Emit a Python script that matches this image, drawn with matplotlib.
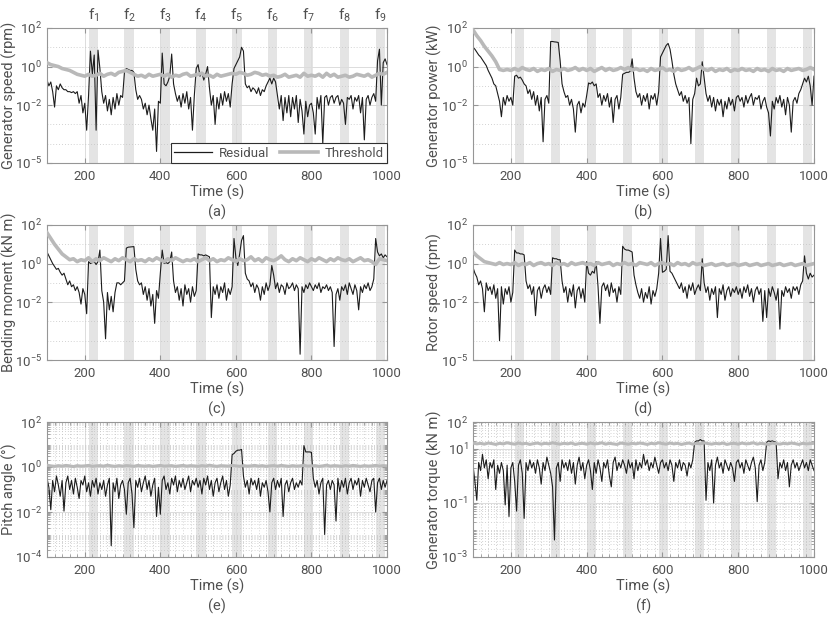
"""Residual vs threshold for six wind-turbine signals, fault windows f1..f9 shaded."""

import matplotlib

matplotlib.use("Agg")
import matplotlib.pyplot as plt
import numpy as np
from matplotlib.lines import Line2D
from matplotlib.ticker import FixedLocator, LogFormatterSciNotation, NullFormatter
import matplotlib.transforms as mtransforms

FONT = "Roboto"
plt.rcParams["font.family"] = [FONT, "DejaVu Sans"]
plt.rcParams["font.weight"] = "normal"
plt.rcParams["mathtext.fontset"] = "custom"
plt.rcParams["mathtext.rm"] = FONT
plt.rcParams["mathtext.it"] = FONT + ":italic"
plt.rcParams["mathtext.bf"] = FONT + ":bold"

TEXT = "#505050"
EDGE = "#969696"

# fault windows (s) and their labels
FAULTS = [(210, 235), (305, 330), (400, 425), (495, 520), (590, 615),
          (685, 710), (780, 805), (875, 900), (970, 995)]
FAULT_LABELS = [f"f$_{{{i}}}$" for i in range(1, 10)]

# residual samples every 5 s from 100 s to 1000 s, stored as log10 values
T_RES = np.arange(100, 1001, 5)
# threshold samples every 10 s
T_THR = np.arange(100, 1001, 10)

gen_speed_res = [
    -0.7, -1.0, -0.8, -1.3, -2.1, -1.0, -1.2, -0.9, -1.1, -1.2,
    -1.2, -1.3, -1.3, -1.35, -1.3, -1.4, -1.3, -1.9, -1.5, -2.4,
    -1.9, -3.3, -1.5, 0.8, -0.4, 0.6, -3.3, 0.85, -0.1, -1.3,
    -1.9, -1.5, -2.3, -1.7, -2.5, -1.6, -2.2, -1.4, -2.0, -1.5,
    -1.6, -0.3, -0.1, -0.15, -0.2, -0.2, -0.3, -1.2, -1.7, -1.5,
    -1.7, -2.2, -1.9, -2.5, -2.0, -2.7, -3.3, -2.2, -4.4, -1.8,
    -1.9, 0.7, -0.9, -1.0, -0.8, -0.5, 0.65, -0.9, -1.4, -1.8,
    -1.5, -2.1, -1.4, -1.9, -1.3, -2.2, -1.6, -3.3, -1.5, -0.1,
    0.1, -0.5, -0.3, -0.7, -0.4, 0.0, -1.1, -2.0, -1.5, -3.0,
    -1.6, -2.2, -1.4, -2.0, -1.3, -1.8, -1.4, -2.1, -0.9, -0.1,
    0.1, 0.3, 0.5, 1.0, 0.8, -0.9, -1.1, -1.0, -1.3, -1.1,
    -1.2, -1.4, -1.1, -1.5, -1.2, -1.3, -1.0, -0.8, -0.6, -0.9,
    -0.6, -0.8, -1.5, -2.2, -1.5, -2.8, -1.6, -2.4, -1.5, -2.6,
    -1.6, -2.2, -1.5, -2.9, -1.7, -2.3, -3.5, -1.8, -2.6, -2.0,
    -1.9, -2.4, -3.5, -1.6, -2.2, -1.5, -4.0, -1.6, -1.5, -2.0,
    -1.6, -1.5, -1.9, -1.6, -1.5, -2.0, -1.7, -1.9, -3.0, -1.6,
    -1.7, -1.5, -2.2, -1.6, -1.8, -1.5, -2.4, -1.6, -3.8, -1.7,
    -1.5, -2.0, -1.6, -1.4, -1.8, 0.3, 0.9, -2.0, 0.2, 0.4,
    0.1,
]
gen_speed_thr = [
    0.2, 0.1, 0.05, 0.0, -0.1, -0.15, -0.2, -0.3, -0.4, -0.45,
    -0.5, -0.4, -0.5, -0.45, -0.35, -0.5, -0.4, -0.35, -0.45, -0.3,
    -0.25, -0.2, -0.3, -0.4, -0.5, -0.45, -0.55, -0.4, -0.5, -0.45,
    -0.4, -0.5, -0.4, -0.55, -0.45, -0.5, -0.4, -0.35, -0.5, -0.45,
    -0.4, -0.35, -0.5, -0.45, -0.55, -0.4, -0.5, -0.45, -0.4, -0.35,
    -0.4, -0.3, -0.35, -0.45, -0.4, -0.3, -0.35, -0.45, -0.4, -0.5,
    -0.45, -0.55, -0.5, -0.4, -0.55, -0.5, -0.45, -0.55, -0.35, -0.5,
    -0.45, -0.5, -0.4, -0.55, -0.35, -0.5, -0.4, -0.55, -0.5, -0.45,
    -0.55, -0.5, -0.4, -0.45, -0.5, -0.4, -0.55, -0.45, -0.35, -0.4,
    -0.3,
]

gen_power_res = [
    1.0, 0.9, 0.75, 0.6, 0.5, 0.35, 0.2, 0.05, -0.2, -0.4,
    -0.6, -0.9, -1.0, -1.4, -1.8, -2.6, -1.6, -2.0, -1.5, -1.8,
    -1.6, -2.0, -0.5, -0.45, -0.6, -0.55, -0.7, -0.9, -1.0, -1.4,
    -1.2, -1.7, -1.3, -2.0, -1.5, -2.3, -1.6, -3.9, -1.7, -1.5,
    -1.9, 1.3, 1.3, 1.28, 1.27, 1.25, 0.3, -0.9, -1.3, -1.6,
    -1.5, -2.0, -1.7, -2.2, -3.4, -2.0, -1.8, -2.4, -1.9, -2.1,
    -1.5, -0.85, -0.9, -0.8, -1.0, -0.9, -1.6, -1.4, -2.0, -1.5,
    -1.8, -1.4, -2.1, -1.6, -2.9, -1.7, -1.5, -2.2, -1.6, -0.4,
    -0.35, -0.3, -0.3, -0.25, 0.4, -0.6, -1.3, -1.6, -1.4, -2.0,
    -1.5, -1.8, -1.4, -2.2, -1.5, -1.7, -1.4, -2.0, -1.3, 0.5,
    0.7, 0.9, 1.1, 1.2, 0.9, 0.3, -0.4, -0.9, -1.2, -1.5,
    -1.3, -1.8, -1.5, -1.9, -1.6, -4.0, -1.7, -1.4, -0.6, -1.0,
    -0.9, 0.25, -0.6, -1.4, -1.8, -1.5, -2.1, -1.6, -2.3, -1.7,
    -2.0, -1.7, -2.6, -1.8, -2.2, -1.6, -2.0, -1.7, -2.3, -1.6,
    -1.5, -1.8, -1.6, -2.1, -1.5, -1.9, -1.6, -1.4, -2.0, -1.6,
    -1.7, -1.5, -2.2, -1.8, -1.6, -2.1, -2.4, -3.6, -1.8, -2.2,
    -1.6, -1.9, -1.5, -2.1, -1.7, -2.5, -1.6, -2.0, -3.4, -1.8,
    -1.6, -1.9, -1.4, -1.2, -0.9, -0.6, -0.8, -0.5, -1.0, -2.0,
    -0.5,
]
gen_power_thr = [
    1.9, 1.6, 1.35, 1.05, 0.8, 0.55, 0.25, -0.15, -0.2, -0.15,
    -0.2, -0.1, -0.2, -0.05, -0.15, -0.2, -0.1, -0.25, -0.15, -0.2,
    -0.1, -0.25, -0.15, -0.2, -0.1, -0.2, -0.15, -0.05, -0.2, -0.1,
    -0.2, -0.1, -0.25, -0.15, -0.05, -0.2, -0.1, -0.2, -0.15, -0.05,
    -0.15, -0.05, -0.2, -0.1, -0.2, -0.15, -0.25, -0.1, -0.2, -0.15,
    -0.05, -0.2, -0.15, -0.25, -0.1, -0.2, -0.15, -0.05, -0.2, -0.1,
    0.0, -0.15, -0.2, -0.1, -0.25, -0.15, -0.2, -0.1, -0.25, -0.15,
    -0.2, -0.1, -0.2, -0.15, -0.25, -0.1, -0.2, -0.15, -0.25, -0.1,
    -0.2, -0.15, -0.25, -0.1, -0.2, -0.15, -0.1, -0.2, -0.15, -0.05,
    -0.15,
]

bend_res = [
    0.6, 0.4, 0.2, 0.0, -0.15, -0.3, -0.25, -0.45, -0.6, -0.5,
    -0.8, -1.1, -0.9, -1.2, -1.1, -1.4, -1.2, -1.5, -2.1, -1.3,
    -1.6, -2.6, 0.1, 0.0, 0.05, 0.1, -0.05, 0.1, 0.7, -1.4,
    -2.0, -3.9, -1.5, -2.4, -1.7, -2.5, -1.5, -1.0, -1.0, -1.1,
    -1.0, -0.9, 0.8, 0.85, 0.86, 0.87, 0.88, -0.3, -0.9, -1.1,
    -1.0, -1.6, -1.2, -1.9, -1.3, -2.2, -1.6, -3.1, -1.4, -1.8,
    -0.5, 0.7, 0.0, 0.05, 0.0, 0.1, 0.6, -0.9, -1.5, -1.2,
    -1.9, -1.3, -2.2, -1.1, -1.6, -1.3, -2.0, -1.2, -1.7, -1.4,
    0.5, 0.45, 0.45, 0.4, 0.45, 0.4, 0.35, -2.8, -1.2, -1.6,
    -1.1, -1.8, -1.2, -1.5, -1.0, -1.9, -1.3, -1.6, -1.2, 1.3,
    0.3, -0.1, 0.5, 1.2, 1.45, -0.5, -0.8, -0.9, -1.2, -1.0,
    -1.5, -1.1, -1.3, -1.9, -1.2, -1.6, -1.0, -1.4, -1.1, -0.1,
    -0.6, -1.3, -1.0, -1.5, -1.1, -1.2, -1.6, -1.0, -1.3, -1.2,
    -1.0, -1.4, -1.1, -1.3, -4.7, -1.2, -1.5, -1.1, -1.3, -1.0,
    -1.2, -1.4, -1.1, -1.3, -1.0, -1.5, -1.2, -1.3, -1.1, -1.4,
    -1.2, -1.5, -4.3, -1.6, -1.3, -1.9, -1.2, -1.4, -1.1, -1.6,
    -1.0, -1.3, -1.6, -1.1, -1.4, -2.4, -1.2, -1.5, -1.1, -1.3,
    -1.0, -1.4, -1.2, -0.8, 1.3, 0.6, 0.4, 0.5, 0.3, 0.45,
    0.35,
]
bend_thr = [
    1.6, 1.3, 1.0, 0.75, 0.5, 0.35, 0.2, 0.25, 0.1, 0.2,
    0.15, 0.3, 0.1, 0.25, 0.15, 0.3, 0.2, 0.1, 0.25, 0.15,
    0.3, 0.2, 0.1, 0.25, 0.15, 0.2, 0.1, 0.25, 0.15, 0.3,
    0.2, 0.1, 0.25, 0.15, 0.3, 0.2, 0.1, 0.2, 0.15, 0.25,
    0.1, 0.2, 0.3, 0.15, 0.25, 0.1, 0.2, 0.15, 0.3, 0.2,
    0.1, 0.25, 0.15, 0.2, 0.35, 0.15, 0.25, 0.1, 0.3, 0.2,
    0.15, 0.25, 0.4, 0.2, 0.1, 0.25, 0.15, 0.3, 0.2, 0.1,
    0.25, 0.15, 0.3, 0.2, 0.1, 0.25, 0.15, 0.3, 0.2, 0.15,
    0.25, 0.1, 0.2, 0.3, 0.15, 0.2, 0.1, -0.05, 0.25, 0.2,
    0.15,
]

rotor_res = [
    -0.2, -0.5, -0.7, -1.1, -0.9, -1.3, -2.5, -1.0, -1.4, -1.2,
    -1.6, -1.1, -1.8, -1.3, -4.0, -1.2, -2.1, -1.3, -1.6, -1.2,
    -2.0, -1.5, 0.7, 0.55, 0.55, 0.5, 0.5, 0.45, -0.9, -1.3,
    -1.1, -1.6, -1.2, -2.7, -1.4, -1.2, -1.8, -1.3, -1.1, -1.5,
    -1.2, -1.6, 0.3, 0.25, 0.25, 0.2, 0.2, -0.9, -1.5, -1.2,
    -2.0, -1.3, -1.7, -1.1, -2.3, -1.4, -1.2, -1.8, -1.3, -2.0,
    0.1, -0.5, -0.6, -0.4, -0.5, 0.1, -1.2, -3.1, -1.2, -1.0,
    -1.4, -1.1, -1.7, -1.0, -1.5, -1.3, -2.0, -1.2, -1.6, 0.9,
    0.75, 0.7, 0.7, 0.65, 0.6, -0.6, -1.1, -1.5, -1.8, -1.3,
    -2.0, -1.5, -1.8, -1.2, -2.1, -1.4, -1.7, -1.3, -0.5, 1.3,
    -0.45, -0.4, -0.3, 1.45, -0.4, -0.5, -0.7, -0.9, -1.1, -1.3,
    -1.0, -1.5, -1.2, -1.8, -1.1, -1.4, -1.0, -1.6, -1.3, -1.1,
    -1.4, 0.25, -1.0, -1.5, -1.2, -1.9, -1.3, -1.6, -1.2, -2.8,
    -1.3, -1.6, -1.1, -1.9, -1.4, -1.2, -1.7, -1.3, -1.5, -1.2,
    -1.6, -1.3, -1.8, -1.2, -1.5, -1.1, -1.7, -1.3, -2.0, -1.4,
    -1.2, -1.6, -1.3, -3.0, -1.4, -2.8, -1.3, -1.7, -1.2, -1.5,
    -1.9, -1.3, -3.4, -1.4, -1.7, -1.2, -1.5, -1.3, -1.8, -1.2,
    -1.4, -1.2, -1.6, -1.1, -0.9, 0.4, -0.5, -0.8, -0.5, -0.7,
    -0.6,
]
rotor_thr = [
    0.6, 0.4, 0.25, 0.1, 0.05, 0.0, -0.05, 0.05, -0.05, 0.0,
    -0.05, 0.05, -0.1, 0.0, -0.05, 0.05, -0.1, 0.0, 0.05, -0.05,
    0.0, -0.1, 0.05, -0.05, 0.0, -0.1, 0.05, -0.05, 0.0, 0.05,
    -0.05, 0.0, -0.1, 0.05, -0.05, 0.0, 0.05, -0.1, 0.0, -0.05,
    0.05, -0.05, 0.0, -0.1, 0.05, 0.0, -0.05, 0.05, -0.1, 0.0,
    0.05, -0.05, 0.0, -0.1, 0.05, -0.05, 0.0, -0.1, 0.05, -0.05,
    0.0, -0.1, -0.05, 0.0, -0.1, -0.05, 0.0, -0.1, -0.05, 0.0,
    -0.1, -0.05, 0.0, -0.1, -0.05, 0.0, -0.1, -0.05, 0.0, -0.1,
    -0.05, 0.0, -0.1, -0.05, 0.0, -0.1, -0.05, 0.0, -0.1, -0.05,
    0.0,
]

pitch_res = [
    -0.5, -0.9, -1.9, -0.6, -1.1, -0.4, -0.8, -1.3, -0.6, -1.96,
    -0.7, -0.4, -1.0, -0.6, -1.2, -0.5, -0.9, -1.4, -0.6, -0.8,
    -0.4, -1.1, -0.7, -1.3, -0.6, -0.9, -0.5, -1.2, -0.7, -1.0,
    -0.6, -1.3, -0.8, -0.5, -3.5, -0.7, -1.1, -0.5, -1.4, -0.8,
    -0.6, -1.0, -2.1, -0.7, -0.5, -1.2, -2.7, -0.6, -0.9, -0.5,
    -1.1, -0.7, -0.4, -1.0, -0.6, -1.3, -0.8, -0.5, -2.2, -0.9,
    -2.1, -0.6, -0.4, -1.0, -0.7, -1.2, -0.5, -0.8, -0.4, -1.1,
    -0.6, -0.9, -0.5, -1.0, -0.7, -0.4, -1.1, -0.6, -0.8, -0.5,
    -0.9, -0.6, -1.2, -0.5, -0.8, -0.4, -1.0, -0.6, -1.3, -0.7,
    -0.5, -1.1, -0.7, -0.4, -1.0, -0.6, -1.3, -0.8, 0.55, 0.6,
    0.7, 0.75, 0.75, 0.78, -0.4, -0.9, -0.6, -1.2, -0.5, -0.8,
    -0.6, -1.0, -0.5, -1.3, -0.7, -0.9, -0.6, -1.1, -2.0, -0.7,
    -0.5, -1.0, -0.6, -0.9, -0.5, -2.2, -0.8, -0.6, -1.1, -0.7,
    -0.5, -1.0, -0.7, -0.9, -0.6, -0.8, 0.95, 0.67, 0.67, 0.67,
    0.65, -0.5, -0.9, -0.6, -1.2, -0.7, -0.5, -3.0, -0.8, -0.6,
    -1.0, -0.6, -0.8, -2.4, -0.5, -1.1, -0.6, -0.9, -0.5, -1.2,
    -0.7, -0.5, -1.0, -0.6, -0.8, -0.5, -1.3, -0.6, -0.9, -0.5,
    -0.8, -1.1, -0.6, -0.5, -2.0, -0.7, -0.5, -1.0, -0.6, -0.9,
    -0.6,
]
pitch_thr = [
    0.08, 0.05, 0.03, 0.06, 0.04, 0.07, 0.05, 0.02, 0.06, 0.04,
    0.05, 0.07, 0.03, 0.05, 0.06, 0.04, 0.08, 0.05, 0.03, 0.06,
    0.04, 0.06, 0.05, 0.03, 0.07, 0.05, 0.04, 0.06, 0.03, 0.05,
    0.07, 0.04, 0.05, 0.06, 0.03, 0.05, 0.07, 0.04, 0.06, 0.05,
    0.03, 0.06, 0.04, 0.08, 0.05, 0.03, 0.06, 0.05, 0.04, 0.07,
    0.05, 0.03, 0.06, 0.04, 0.05, 0.07, 0.04, 0.06, 0.03, 0.05,
    0.06, 0.04, 0.07, 0.05, 0.03, 0.06, 0.04, 0.05, 0.07, 0.04,
    0.05, 0.06, 0.03, 0.05, 0.08, 0.04, 0.06, 0.05, 0.03, 0.06,
    0.04, 0.07, 0.05, 0.03, 0.06, 0.04, 0.05, 0.07, 0.04, 0.06,
    0.05,
]

torque_res = [
    0.4, -0.2, -0.9, 0.5, 0.2, 0.8, 0.3, 0.6, -0.1, 0.5,
    0.3, 0.6, -0.5, 0.4, 0.1, 0.5, 0.2, -1.07, 0.4, -1.5,
    0.3, 0.5, -0.2, -1.3, 0.4, 0.6, 0.1, -1.57, 0.5, 0.2,
    0.6, 0.3, 0.5, 0.1, 0.6, 0.3, -0.3, 0.5, 0.2, 0.7,
    0.4, 0.1, -0.4, -2.37, 0.3, 0.5, -0.2, 0.6, 0.3, 0.5,
    0.2, 0.6, 0.1, 0.5, -0.3, 0.4, 0.7, 0.2, 0.5, -0.1,
    0.4, 0.6, 0.2, -0.5, 0.5, 0.1, 0.6, 0.3, -0.2, 0.5,
    0.3, 0.6, 0.0, -0.4, 0.5, 0.7, 0.2, 0.5, 0.3, 0.6,
    0.4, 0.1, 0.6, 0.3, 0.5, -0.1, 0.6, 0.2, 0.5, 0.3,
    0.8, 0.4, 0.6, 0.2, 0.5, 0.3, 0.7, 0.4, 0.1, 0.5,
    0.6, 0.3, 0.5, 0.2, 0.6, 0.4, -0.2, 0.5, 0.3, 0.6,
    0.2, 0.5, 0.4, 0.0, 0.5, 0.3, 0.6, 1.25, 1.3, 1.3,
    1.35, 1.3, 1.3, -0.9, 0.5, 0.2, 0.6, -1.0, 0.4, 0.7,
    0.3, 0.5, 0.1, 0.6, 0.4, 0.2, 0.5, 0.3, -0.2, 0.5,
    0.6, 0.3, 0.5, 0.1, 0.6, 0.4, 0.2, 0.5, 0.7, 0.3,
    -0.95, 0.4, 0.6, 0.2, 0.5, 1.25, 1.3, 1.28, 1.3, 1.27,
    1.25, -0.1, 0.5, 0.3, 0.6, 0.2, 0.5, -0.4, 0.4, 0.6,
    0.3, 0.5, 0.2, 0.4, 0.6, 0.3, 0.5, 0.2, 0.6, 0.4,
    0.2,
]
torque_thr = [
    1.22, 1.19, 1.21, 1.18, 1.22, 1.2, 1.17, 1.21, 1.19, 1.23,
    1.2, 1.18, 1.22, 1.19, 1.21, 1.17, 1.2, 1.22, 1.18, 1.21,
    1.19, 1.23, 1.2, 1.18, 1.21, 1.19, 1.22, 1.17, 1.2, 1.21,
    1.18, 1.22, 1.19, 1.2, 1.23, 1.18, 1.21, 1.19, 1.17, 1.22,
    1.2, 1.18, 1.21, 1.19, 1.22, 1.2, 1.17, 1.21, 1.19, 1.23,
    1.2, 1.18, 1.22, 1.19, 1.21, 1.17, 1.2, 1.22, 1.18, 1.21,
    1.19, 1.23, 1.2, 1.18, 1.21, 1.19, 1.22, 1.17, 1.2, 1.21,
    1.18, 1.22, 1.19, 1.2, 1.23, 1.18, 1.21, 1.19, 1.17, 1.22,
    1.2, 1.18, 1.21, 1.19, 1.22, 1.2, 1.17, 1.21, 1.19, 1.2,
    1.21,
]

PANELS = [
    # key, ylabel, residual, threshold, ylim exponents, major exps, dense minor grid
    ("a", "Generator speed (rpm)", gen_speed_res, gen_speed_thr, (-5, 2), [-5, -2, 0, 2], False),
    ("b", "Generator power (kW)", gen_power_res, gen_power_thr, (-5, 2), [-5, -2, 0, 2], False),
    ("c", "Bending moment (kN m)", bend_res, bend_thr, (-5, 2), [-5, -2, 0, 2], False),
    ("d", "Rotor speed (rpm)", rotor_res, rotor_thr, (-5, 2), [-5, -2, 0, 2], False),
    ("e", "Pitch angle (°)", pitch_res, pitch_thr, (-4, 2), [-4, -2, 0, 2], True),
    ("f", "Generator torque (kN m)", torque_res, torque_thr, (-3, 2), [-3, -1, 1, 2], True),
]

W, H = 831, 618
COL_X = [(47, 387), (473, 814)]
ROW_Y = [(28, 163), (225, 360), (422, 557)]
YLABEL_X = [9, 434]


def style_axis(ax, ylim, majors, dense):
    lo, hi = ylim
    ax.set_yscale("log")
    ax.set_xlim(100, 1000)
    ax.set_ylim(10.0 ** lo, 10.0 ** hi)
    ax.xaxis.set_major_locator(FixedLocator([200, 400, 600, 800, 1000]))
    ax.yaxis.set_major_locator(FixedLocator([10.0 ** e for e in majors]))
    ax.yaxis.set_major_formatter(LogFormatterSciNotation())
    if dense:
        minors = [k * 10.0 ** e for e in range(lo, hi) for k in range(1, 10)]
        ax.xaxis.set_minor_locator(FixedLocator(np.arange(100, 1001, 20)))
    else:
        minors = [10.0 ** e for e in range(lo, hi + 1)]
    minors = [m for m in minors if not any(np.isclose(m, 10.0 ** e) for e in majors)]
    ax.yaxis.set_minor_locator(FixedLocator(minors))
    ax.yaxis.set_minor_formatter(NullFormatter())

    ax.set_axisbelow(True)
    ax.grid(True, which="major", color="#dcdcdc", lw=0.7, ls="-")
    ax.grid(True, which="minor", axis="y", color="#c4c4c4", lw=0.6, ls=(0, (1, 2.5)))
    if dense:
        ax.grid(True, which="minor", axis="x", color="#c4c4c4", lw=0.6, ls=(0, (1, 2.5)))

    for sp in ax.spines.values():
        sp.set_color(EDGE)
        sp.set_linewidth(0.8)
    ax.tick_params(which="both", direction="in", color=EDGE, top=True, right=True,
                   labelcolor=TEXT, labelsize=9.5)
    ax.tick_params(which="major", length=3.5)
    ax.tick_params(which="minor", length=2 if dense else 0)
    ax.tick_params(axis="x", pad=5)


def main() -> None:
    fig = plt.figure(figsize=(W / 100, H / 100), dpi=100)
    axes = {}
    for idx, (key, ylabel, res, thr, ylim, majors, dense) in enumerate(PANELS):
        row, col = divmod(idx, 2)
        x0, x1 = COL_X[col]
        y0, y1 = ROW_Y[row]
        ax = fig.add_axes([x0 / W, 1 - y1 / H, (x1 - x0) / W, (y1 - y0) / H])
        axes[key] = ax

        for a, b in FAULTS:
            ax.axvspan(a, b, color="#e4e4e4", lw=0, zorder=0.2)

        ax.plot(T_RES, 10.0 ** np.asarray(res), color="#1c1c1c", lw=0.8, zorder=2)
        thr_lw = 2.6 if not dense else 2.2
        ax.plot(T_THR, 10.0 ** np.asarray(thr), color="#b9b9b9", lw=thr_lw, zorder=3)

        style_axis(ax, ylim, majors, dense)

        fig.text((x0 + x1) / 2 / W, 1 - (y1 + 29) / H, "Time (s)", ha="center",
                 va="center", fontsize=10.5, color=TEXT)
        fig.text((x0 + x1) / 2 / W, 1 - (y1 + 49) / H, f"({key})", ha="center",
                 va="center", fontsize=10.5, color=TEXT)
        fig.text(YLABEL_X[col] / W, 1 - (y0 + y1) / 2 / H, ylabel, rotation=90,
                 ha="center", va="center", fontsize=10.5, color=TEXT)

    ax = axes["a"]
    trans = mtransforms.blended_transform_factory(ax.transData, ax.transAxes)
    for (a, b), lab in zip(FAULTS, FAULT_LABELS):
        ax.text((a + b) / 2, 1.03, lab, transform=trans, ha="center", va="bottom",
                fontsize=11, color=TEXT)

    handles = [
        Line2D([], [], color="#1c1c1c", lw=0.9),
        Line2D([], [], color="#b9b9b9", lw=2.6),
    ]
    leg = ax.legend(handles, ["Residual", "Threshold"], loc="lower right", ncol=2,
                    bbox_to_anchor=(1.0, 0.0), borderaxespad=0.0, frameon=True,
                    fancybox=False, framealpha=1.0, edgecolor="#303030",
                    handlelength=2.9, columnspacing=0.8, handletextpad=0.5,
                    borderpad=0.25, fontsize=9.5)
    leg.get_frame().set_linewidth(0.8)
    for txt in leg.get_texts():
        txt.set_color(TEXT)
    leg.set_zorder(5)

    fig.savefig("out.png", dpi=100)
    plt.close(fig)


if __name__ == "__main__":
    main()
